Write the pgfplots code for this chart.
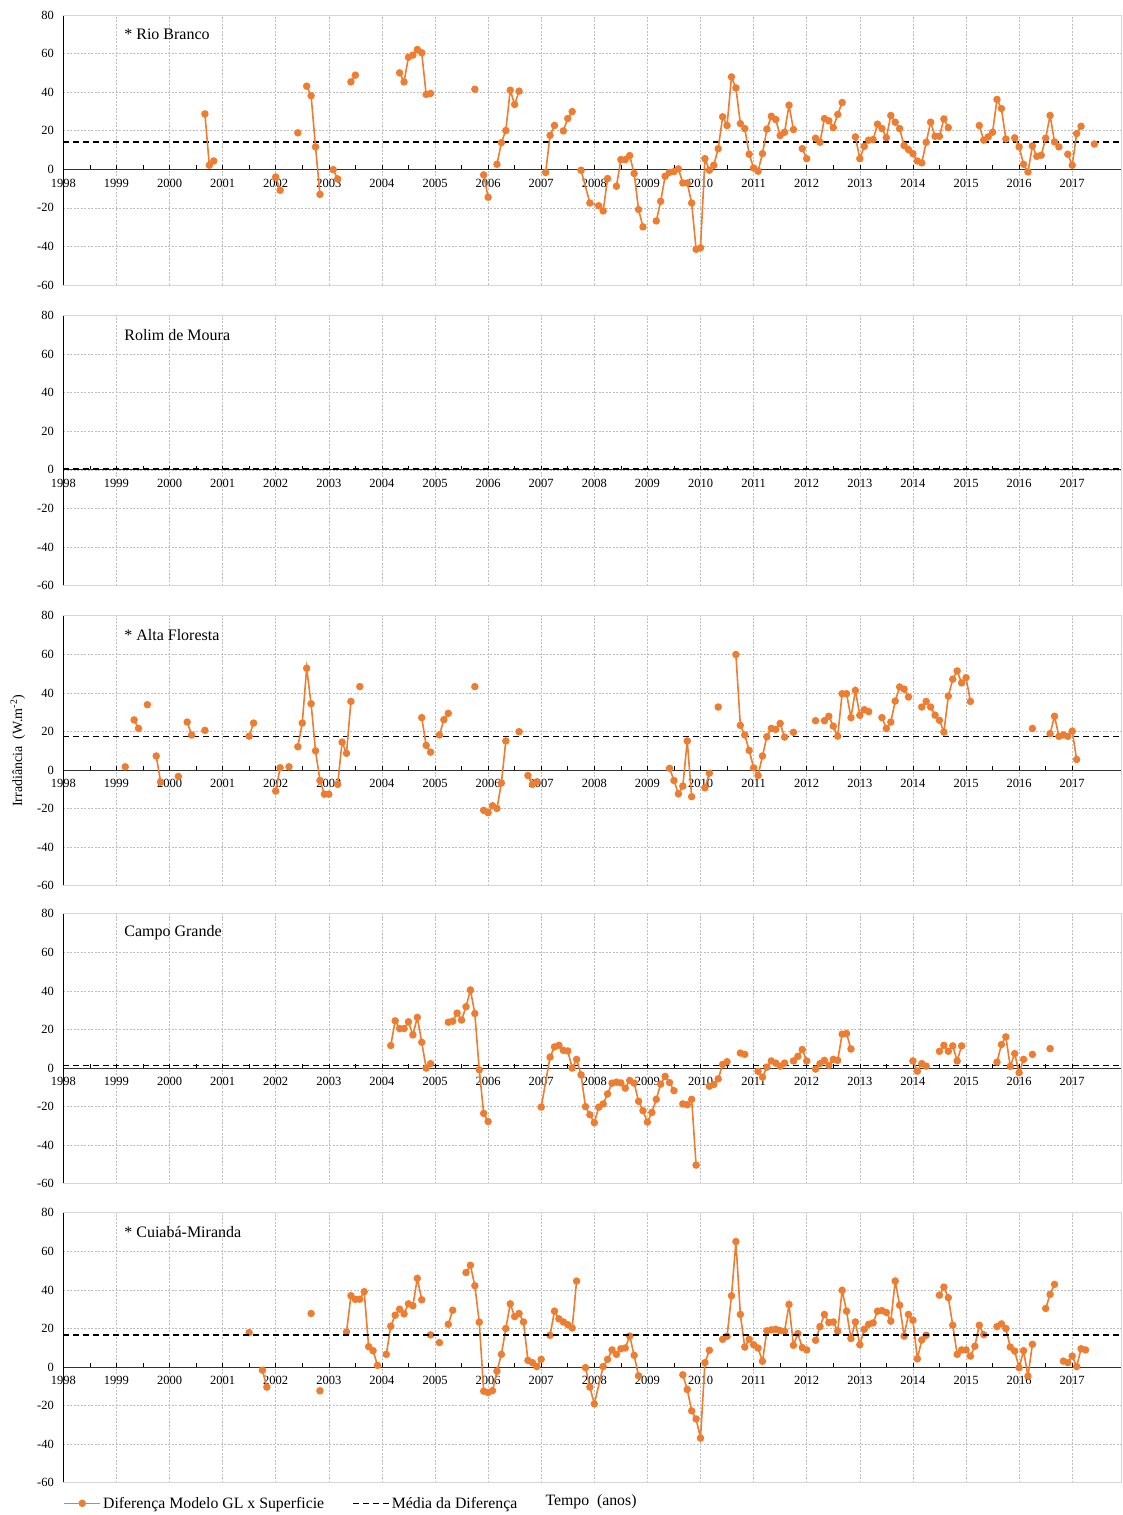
\documentclass[border=0pt]{standalone}
\usepackage{fontspec}
\setmainfont{Liberation Serif}
\usepackage{pgfplots}
\pgfplotsset{compat=1.18}
\definecolor{exorange}{RGB}{237,125,49}
\definecolor{gridgray}{RGB}{190,190,190}
\definecolor{framegray}{RGB}{215,215,215}
\pgfplotsset{
 panel/.style={
  scale only axis, width=1057.6pt, height=270pt,
  xmin=0, xmax=239, ymin=-60, ymax=80,
  clip mode=individual,
  axis x line=middle, axis y line=left,
  x axis line style={-, black!80, line width=1pt},
  y axis line style={-, black, line width=0.8pt},
  xtick={0,12,...,228},
  xticklabels={1998,1999,2000,2001,2002,2003,2004,2005,2006,2007,2008,2009,2010,2011,2012,2013,2014,2015,2016,2017},
  minor x tick num=1,
  ytick={-60,-40,-20,0,20,40,60,80},
  yticklabels={-60,-40,-20,0,20,40,60,80},
  grid=major,
  major grid style={gridgray, dash pattern=on 2pt off 1.5pt, line width=0.6pt},
  tick label style={font=\fontsize{12.5}{14}\selectfont},
  /pgf/number format/assume math mode=true,
  ytick style={draw=none},
  xtick style={black, line width=0.6pt},
  major tick length=4pt, minor tick length=4pt,
  tick align=inside,
  hide obscured x ticks=false, hide obscured y ticks=false,
  unbounded coords=jump,
  yticklabel style={anchor=east, xshift=-6pt},
  xticklabel style={anchor=north, yshift=-6pt},
 },
 ser/.style={exorange, line width=1.6pt, mark=*, mark size=2.9pt, mark options={solid, fill=exorange, draw=exorange}},
 mean/.style={black, line width=1.6pt, dash pattern=on 6pt off 4pt},
}
\newcommand{\frameit}{\draw[framegray, line width=0.8pt] (rel axis cs:0,1) -- (rel axis cs:1,1) -- (rel axis cs:1,0) -- (rel axis cs:0,0);}
\newcommand{\ttl}[1]{\node[anchor=west, font=\fontsize{16}{18}\selectfont] at (axis cs:13,70) {#1};}
\begin{document}
\begin{tikzpicture}
\useasboundingbox (0,0) rectangle (1122pt,1515pt);
% ---------------- Rio Branco
\begin{axis}[panel, at={(63.3pt,1230pt)}, anchor=south west]
\frameit
\addplot[mean] coordinates {(0,14) (239,14)};
\addplot[ser] coordinates {
(32,28.7) (33,2.1) (34,4.3) (34.5,nan)
(48,-4.0) (49,-10.9) (49.5,nan)
(53,18.9) (53.5,nan)
(55,43.1) (56,38.1) (57,11.6) (58,-13.0) (58.5,nan)
(61,-0.2) (62,-5.0) (62.5,nan)
(65,45.3) (66,48.8) (66.5,nan)
(76,50.0) (77,45.3) (78,58.1) (79,59.2) (80,62.1) (81,60.4) (82,38.8) (83,39.3) (83.5,nan)
(93,41.5) (93.5,nan)
(95,-2.9) (96,-14.5) (96.5,nan)
(98,2.6) (99,13.8) (100,20.1) (101,41.0) (102,33.6) (103,40.5) (103.5,nan)
(109,-1.7) (110,17.6) (111,22.7) (111.5,nan)
(113,19.9) (114,26.3) (115,29.9) (115.5,nan)
(117,-0.5) (119,-17.5) (121,-18.9) (122,-21.6) (123,-4.8) (123.5,nan)
(125,-8.8) (126,5.0) (127,5.0) (128,7.1) (129,-2.2) (130,-20.9) (131,-29.9) (131.5,nan)
(134,-26.8) (135,-16.6) (136,-3.6) (137,-1.6) (138,-1.2) (139,0.2) (140,-7.1) (141,-7.1) (142,-17.5) (143,-41.5) (144,-40.7) (145,5.5) (146,-0.5) (147,2.1) (148,10.7) (149,27.2) (150,22.7) (151,47.9) (152,42.2) (153,23.7) (154,21.1) (155,7.8) (156,0.7) (157,-1.0) (158,8.1) (159,20.8) (160,27.5) (161,25.8) (162,17.5) (163,19.2) (164,33.2) (165,20.6) (165.5,nan)
(167,10.7) (168,5.5) (168.5,nan)
(170,16.1) (171,14.0) (172,26.3) (173,25.1) (174,21.6) (175,28.4) (176,34.6) (176.5,nan)
(179,16.8) (180,5.5) (181,11.9) (182,15.1) (183,15.4) (184,23.4) (185,21.1) (186,16.4) (187,27.9) (188,24.4) (189,21.1) (190,12.3) (191,10.2) (192,8.1) (193,4.3) (194,3.3) (195,14.0) (196,24.4) (197,17.1) (198,17.1) (199,26.1) (200,21.6) (200.5,nan)
(207,22.7) (208,15.1) (209,16.8) (210,19.2) (211,36.2) (212,31.5) (213,15.7) (213.5,nan)
(215,16.3) (216,11.6) (217,2.6) (218,-1.4) (219,12.1) (220,6.7) (221,7.3) (222,16.1) (223,27.9) (224,14.2) (225,11.6) (225.5,nan)
(227,7.8) (228,2.1) (229,18.5) (230,22.3) (230.5,nan)
(233,13.1)
};
\ttl{* Rio Branco}
\end{axis}
% ---------------- Rolim de Moura
\begin{axis}[panel, at={(63.3pt,929.4pt)}, anchor=south west]
\frameit
\addplot[mean] coordinates {(0,0.5) (239,0.5)};
\ttl{Rolim de Moura}
\end{axis}
% ---------------- Alta Floresta
\begin{axis}[panel, at={(63.3pt,629.2pt)}, anchor=south west]
\frameit
\addplot[mean] coordinates {(0,17.5) (239,17.5)};
\addplot[ser] coordinates {
(14,1.7) (14.5,nan)
(16,26.0) (17,21.6) (17.5,nan)
(19,33.9) (19.5,nan)
(21,7.3) (22,-6.2) (22.5,nan)
(26,-3.3) (26.5,nan)
(28,24.9) (29,18.2) (29.5,nan)
(32,20.6) (32.5,nan)
(42,17.6) (43,24.4) (43.5,nan)
(48,-10.9) (49,1.2) (49.5,nan)
(51,1.7) (51.5,nan)
(53,12.1) (54,24.4) (55,52.8) (56,34.4) (57,10.0) (58,-5.4) (59,-12.5) (60,-12.5) (60.5,nan)
(62,-7.4) (63,14.5) (64,8.7) (65,35.6) (65.5,nan)
(67,43.3) (67.5,nan)
(81,27.2) (82,12.8) (83,9.3) (83.5,nan)
(85,18.2) (86,26.1) (87,29.4) (87.5,nan)
(93,43.3) (93.5,nan)
(95,-20.9) (96,-22.1) (97,-18.5) (98,-19.9) (99,-6.7) (100,15.1) (100.5,nan)
(103,19.9) (103.5,nan)
(105,-2.8) (106,-7.4) (107,-6.1) (107.5,nan)
(137,0.9) (138,-5.4) (139,-12.3) (140,-8.3) (141,15.1) (142,-13.8) (142.5,nan)
(145,-9.2) (146,-1.6) (146.5,nan)
(148,32.7) (148.5,nan)
(152,59.9) (153,23.2) (154,18.2) (155,10.2) (156,1.2) (157,-2.8) (158,7.3) (159,17.3) (160,21.6) (161,21.1) (162,24.2) (163,17.1) (163.5,nan)
(165,19.6) (165.5,nan)
(170,25.6) (170.5,nan)
(172,25.6) (173,27.9) (174,22.8) (175,17.6) (176,39.6) (177,39.6) (178,27.2) (179,41.3) (180,28.4) (181,31.3) (182,30.3) (182.5,nan)
(185,27.2) (186,21.6) (187,24.9) (188,35.8) (189,43.1) (190,42.0) (191,37.9) (191.5,nan)
(194,32.7) (195,35.6) (196,32.7) (197,28.5) (198,25.8) (199,19.7) (200,38.4) (201,47.1) (202,51.4) (203,45.2) (204,47.9) (205,35.6) (205.5,nan)
(219,21.6) (219.5,nan)
(223,18.9) (224,27.9) (225,17.5) (226,18.2) (227,17.5) (228,20.2) (229,5.5)
};
\ttl{* Alta Floresta}
\node[rotate=90, font=\fontsize{14}{16}\selectfont] at (axis description cs:-0.043,0.5) {Irradiância\ \ (W.m\textsuperscript{-2})};
\end{axis}
% ---------------- Campo Grande
\begin{axis}[panel, at={(63.3pt,331.2pt)}, anchor=south west]
\frameit
\addplot[mean] coordinates {(0,1.4) (239,1.4)};
\addplot[ser] coordinates {
(74,11.7) (75,24.5) (76,20.5) (77,20.5) (78,24.0) (79,17.2) (80,26.3) (81,13.4) (82,0) (83,2.3) (83.5,nan)
(87,23.8) (88,24.3) (89,28.5) (90,24.9) (91,31.8) (92,40.5) (93,28.3) (94,-0.9) (95,-23.5) (96,-27.7) (96.5,nan)
(108,-20.2) (110,5.7) (111,11.0) (112,11.8) (113,9.2) (114,8.9) (115,0) (116,4.5) (117,-3.5) (118,-20.0) (119,-24.2) (120,-28.3) (121,-20.3) (122,-18.6) (123,-13.4) (124,-7.8) (125,-7.3) (126,-7.7) (127,-10.4) (128,-6.4) (129,-7.8) (130,-17.2) (131,-22.1) (132,-28.0) (133,-23.0) (134,-16.2) (135,-8.3) (136,-4.3) (137,-7.5) (138,-11.7) (138.5,nan)
(140,-18.6) (141,-19.0) (142,-16.2) (143,-50.3) (143.5,nan)
(146,-9.4) (147,-8.5) (148,-5.6) (149,1.9) (150,3.3) (150.5,nan)
(153,7.8) (154,7.1) (154.5,nan)
(157,-1.7) (158,-4.7) (159,0.5) (160,3.7) (161,2.6) (162,1.0) (163,2.6) (163.5,nan)
(165,3.7) (166,6.1) (167,9.6) (168,3.7) (168.5,nan)
(170,-0.5) (171,2.3) (172,4.0) (173,1.4) (174,4.5) (175,4.0) (176,17.6) (177,17.9) (178,9.9) (178.5,nan)
(192,3.7) (193,-1.6) (194,2.3) (195,1.0) (195.5,nan)
(198,8.7) (199,11.8) (200,8.7) (201,11.5) (202,3.7) (203,11.5) (203.5,nan)
(211,3.1) (212,12.2) (213,16.2) (214,0.9) (215,7.5) (216,-2.4) (217,4.5) (217.5,nan)
(219,7.1) (219.5,nan)
(223,10.1)
};
\ttl{Campo Grande}
\end{axis}
% ---------------- Cuiaba-Miranda
\begin{axis}[panel, at={(63.3pt,32.2pt)}, anchor=south west,
  legend style={at={(axis description cs:0,0)}, anchor=north west, xshift=-3pt, yshift=-10pt, draw=none, fill=none, font=\fontsize{15.8}{17}\selectfont, /tikz/every even column/.append style={column sep=26pt}},
  legend columns=2, legend cell align=left,
  legend image code/.code={\draw[mark repeat=2,mark phase=2,#1] plot coordinates {(0pt,0pt) (18pt,0pt) (36pt,0pt)};}]
\frameit
\addplot[ser] coordinates {
(42,17.9) (42.5,nan)
(45,-1.6) (46,-10.4) (46.5,nan)
(56,27.8) (56.5,nan)
(58,-12.3) (58.5,nan)
(64,18.2) (65,37.0) (66,35.1) (67,35.2) (68,39.1) (69,10.6) (70,8.5) (71,0.9) (71.5,nan)
(73,6.6) (74,21.2) (75,26.9) (76,30.0) (77,27.6) (78,32.8) (79,31.8) (80,46.0) (81,34.9) (81.5,nan)
(83,16.7) (83.5,nan)
(85,12.7) (85.5,nan)
(87,22.2) (88,29.5) (88.5,nan)
(91,49.0) (92,52.8) (93,42.2) (94,23.3) (95,-12.5) (96,-13.2) (97,-12.2) (98,-2.1) (99,6.6) (100,20.0) (101,32.8) (102,26.2) (103,27.8) (104,23.4) (105,3.5) (106,2.3) (107,0.3) (108,4.0) (108.5,nan)
(110,16.5) (111,29.0) (112,25.0) (113,23.4) (114,22.0) (115,20.3) (116,44.6) (116.5,nan)
(118,-0.3) (119,-10.4) (120,-19.1) (122,0.3) (123,4.0) (124,8.9) (125,6.6) (126,9.5) (127,9.9) (128,16.1) (129,6.1) (130,-4.5) (130.5,nan)
(140,-4.0) (141,-11.6) (142,-22.7) (143,-26.9) (144,-36.8) (145,2.3) (146,8.7) (146.5,nan)
(149,14.4) (150,16.0) (151,37.0) (152,65.1) (153,27.3) (154,10.4) (155,14.4) (156,11.6) (157,9.9) (158,3.0) (159,18.8) (160,19.3) (161,19.6) (162,18.9) (163,18.6) (164,32.5) (165,11.3) (166,17.4) (167,10.1) (168,8.9) (168.5,nan)
(170,13.9) (171,21.0) (172,27.3) (173,23.1) (174,23.4) (175,18.6) (176,39.8) (177,29.0) (178,14.8) (179,23.4) (180,11.6) (181,19.6) (182,22.2) (183,22.9) (184,29.0) (185,29.3) (186,28.3) (187,23.8) (188,44.6) (189,32.1) (190,16.1) (191,27.3) (192,24.3) (193,4.3) (194,14.1) (195,16.5) (195.5,nan)
(198,37.3) (199,41.5) (200,36.0) (201,21.7) (202,6.6) (203,8.9) (204,8.9) (205,5.7) (206,10.8) (207,21.7) (208,16.8) (208.5,nan)
(211,21.0) (212,22.4) (213,20.0) (214,10.4) (215,8.3) (216,-0.3) (217,8.5) (218,-4.7) (219,11.8) (219.5,nan)
(222,30.4) (223,37.7) (224,42.9) (224.5,nan)
(226,3.1) (227,2.3) (228,5.7) (229,0.3) (230,9.5) (231,8.9)
};
\addlegendentry{Diferença Modelo GL x Superficie}
\addplot[mean] coordinates {(0,16.5) (239,16.5)};
\addlegendentry{Média da Diferença}
\ttl{* Cuiabá-Miranda}
\node[font=\fontsize{15.8}{17}\selectfont] at ([yshift=-19pt]axis description cs:0.499,0) {Tempo\ \ (anos)};
\end{axis}
\end{tikzpicture}
\end{document}
